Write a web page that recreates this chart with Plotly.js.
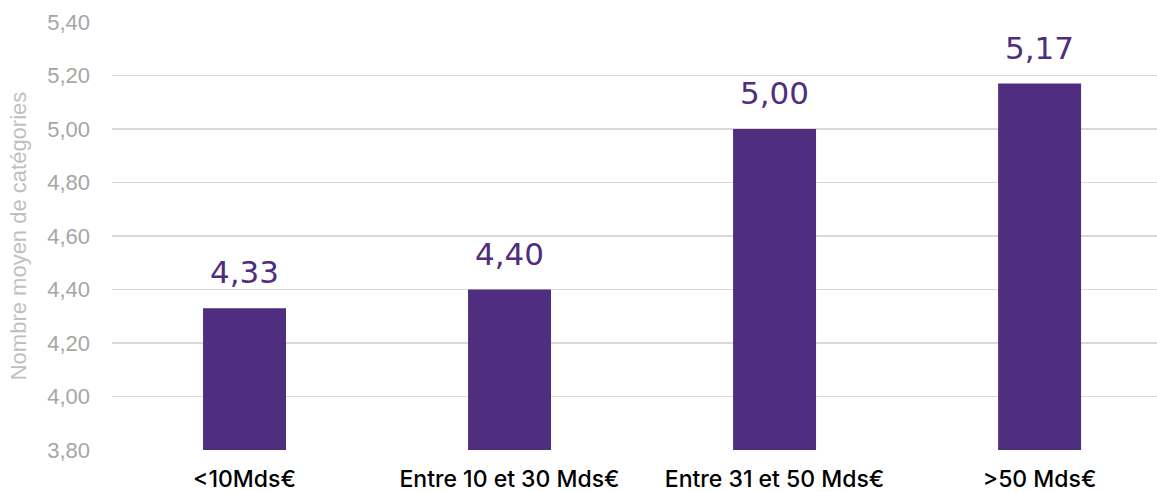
<!DOCTYPE html>
<html>
<head>
<meta charset="utf-8">
<script src="https://cdn.plot.ly/plotly-3.0.1.min.js"></script>
<style>
  html, body { margin: 0; padding: 0; background: #ffffff; }
  #chart { width: 1157px; height: 492px; }
</style>
</head>
<body>
<div id="chart"></div>
<script>
// Average number of categories by asset size bracket
const categories = ['<10Mds€', 'Entre 10 et 30 Mds€', 'Entre 31 et 50 Mds€', '>50 Mds€'];
const values = [4.33, 4.40, 5.00, 5.17];
const tickValues = [3.8, 4.0, 4.2, 4.4, 4.6, 4.8, 5.0, 5.2, 5.4];
const tickLabels = ['3,80', '4,00', '4,20', '4,40', '4,60', '4,80', '5,00', '5,20', '5,40'];
const yTitle = 'Nombre moyen de catégories';

const purple = '#4f2d7f';
const fmt = v => v.toFixed(2).replace('.', ',');

const trace = {
  type: 'bar',
  x: categories,
  y: values,
  marker: { color: purple },
  hoverinfo: 'skip'
};

// value labels sitting above each bar
const annotations = categories.map((c, i) => ({
  x: c,
  y: values[i],
  xref: 'x',
  yref: 'y',
  text: fmt(values[i]),
  showarrow: false,
  yanchor: 'bottom',
  yshift: 16,
  font: { family: 'DejaVu Sans, sans-serif', size: 31, color: purple }
}));

const layout = {
  width: 1157,
  height: 492,
  margin: { l: 112, r: 0, t: 22, b: 42 },
  paper_bgcolor: '#ffffff',
  plot_bgcolor: '#ffffff',
  showlegend: false,
  bargap: 0.687,
  xaxis: {
    type: 'category',
    range: [-0.5, 3.443],
    showgrid: false,
    zeroline: false,
    showline: false,
    ticks: '',
    tickfont: { family: 'Inter, sans-serif', size: 23, color: '#000000', weight: 500 },
    ticklabelstandoff: 13,
    fixedrange: true
  },
  yaxis: {
    range: [3.8, 5.4],
    tickvals: tickValues,
    ticktext: tickLabels,
    showgrid: true,
    gridcolor: '#d9d9d9',
    gridwidth: 1.5,
    zeroline: false,
    showline: false,
    ticks: '',
    ticklabelstandoff: 21,
    tickfont: { family: 'Liberation Sans, Arial, sans-serif', size: 22, color: '#a6a6a6' },
    title: {
      text: yTitle,
      font: { family: 'Liberation Sans, Arial, sans-serif', size: 22, color: '#bfbfbf' },
      standoff: 14
    },
    automargin: false,
    fixedrange: true
  },
  annotations: annotations
};

Plotly.newPlot('chart', [trace], layout, { displayModeBar: false, staticPlot: true });
</script>
</body>
</html>
